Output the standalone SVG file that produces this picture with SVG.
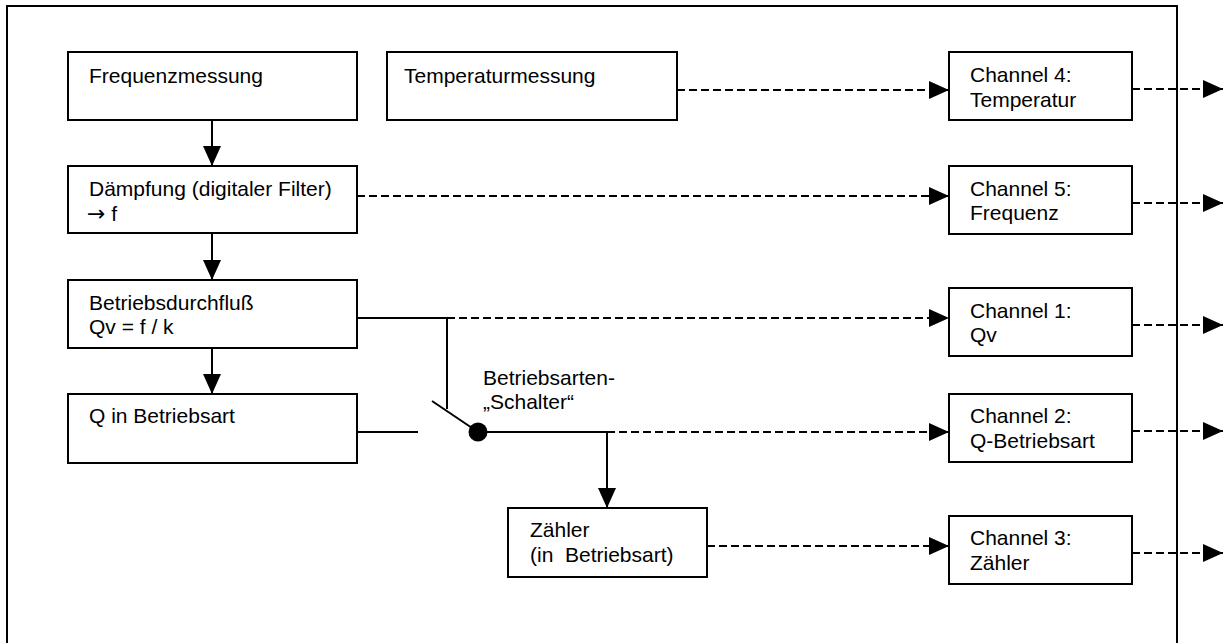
<svg xmlns="http://www.w3.org/2000/svg" width="1223" height="643" viewBox="0 0 1223 643">
<style>
.box{fill:#fff;stroke:#000;stroke-width:2}
.t{font-family:"Liberation Sans",Arial,sans-serif;font-size:21px;fill:#000}
.ar{font-family:"DejaVu Sans",sans-serif;font-size:22px}
.s{fill:none;stroke:#000;stroke-width:2}
.d{fill:none;stroke:#000;stroke-width:2;stroke-dasharray:8 4}
</style>
<defs>
<marker id="ah" markerWidth="20" markerHeight="18" refX="20" refY="9" orient="auto" markerUnits="userSpaceOnUse"><path d="M0,0 L20,9 L0,18 Z" fill="#000"/></marker>
</defs>
<rect x="0" y="0" width="1223" height="643" fill="#fff"/>
<rect id="frame" x="7" y="6" width="1170" height="660" fill="none" stroke="#000" stroke-width="2"/>
<g id="connectors">
<path class="s" d="M212,120 V166" marker-end="url(#ah)"/>
<path class="s" d="M212,233 V280" marker-end="url(#ah)"/>
<path class="s" d="M212,348 V394" marker-end="url(#ah)"/>
<path class="d" d="M677,90 H949" marker-end="url(#ah)"/>
<path class="d" d="M357,196 H949" marker-end="url(#ah)"/>
<path class="s" d="M357,318 H447 V409"/>
<path class="d" d="M447,318 H949" marker-end="url(#ah)"/>
<path class="s" d="M357,432 H418"/>
<path class="s" d="M432,401 L478,432"/>
<circle cx="478" cy="432" r="9.5" fill="#000"/>
<path class="s" d="M478,432 H607"/>
<path class="d" d="M607,432 H949" marker-end="url(#ah)"/>
<path class="s" d="M607,432 V508" marker-end="url(#ah)"/>
<path class="d" d="M707,546 H949" marker-end="url(#ah)"/>
<path class="d" d="M1132,89 H1223" marker-end="url(#ah)"/>
<path class="d" d="M1132,203 H1223" marker-end="url(#ah)"/>
<path class="d" d="M1132,325 H1223" marker-end="url(#ah)"/>
<path class="d" d="M1132,431 H1223" marker-end="url(#ah)"/>
<path class="d" d="M1132,553 H1223" marker-end="url(#ah)"/>
</g>
<g id="frequenzmessung"><rect class="box" x="68" y="52" width="289" height="68"/><text class="t" x="89" y="83">Frequenzmessung</text></g>
<g id="temperaturmessung"><rect class="box" x="387" y="52" width="290" height="68"/><text class="t" x="404" y="83">Temperaturmessung</text></g>
<g id="daempfung"><rect class="box" x="68" y="166" width="289" height="67"/><text class="t" x="89" y="196">Dämpfung (digitaler Filter)</text><text class="t" x="87" y="221"><tspan class="ar">→</tspan> f</text></g>
<g id="betriebsdurchfluss"><rect class="box" x="68" y="280" width="289" height="68"/><text class="t" x="89" y="310">Betriebsdurchfluß</text><text class="t" x="89" y="334">Qv = f / k</text></g>
<g id="q-betriebsart"><rect class="box" x="68" y="394" width="289" height="69"/><text class="t" x="89" y="423">Q in Betriebsart</text></g>
<g id="schalter"><text class="t" x="483" y="385">Betriebsarten-</text><text class="t" x="483" y="409">„Schalter“</text></g>
<g id="zaehler"><rect class="box" x="508" y="508" width="199" height="69"/><text class="t" x="530" y="537">Zähler</text><text class="t" x="530" y="562" xml:space="preserve">(in  Betriebsart)</text></g>
<g id="channel4"><rect class="box" x="949" y="52" width="183" height="68"/><text class="t" x="970" y="82">Channel 4:</text><text class="t" x="970" y="107">Temperatur</text></g>
<g id="channel5"><rect class="box" x="949" y="166" width="183" height="68"/><text class="t" x="970" y="196">Channel 5:</text><text class="t" x="970" y="220">Frequenz</text></g>
<g id="channel1"><rect class="box" x="949" y="288" width="183" height="68"/><text class="t" x="970" y="318">Channel 1:</text><text class="t" x="970" y="342">Qv</text></g>
<g id="channel2"><rect class="box" x="949" y="394" width="183" height="68"/><text class="t" x="970" y="423">Channel 2:</text><text class="t" x="970" y="448">Q-Betriebsart</text></g>
<g id="channel3"><rect class="box" x="949" y="516" width="183" height="68"/><text class="t" x="970" y="545">Channel 3:</text><text class="t" x="970" y="570">Zähler</text></g>
</svg>
